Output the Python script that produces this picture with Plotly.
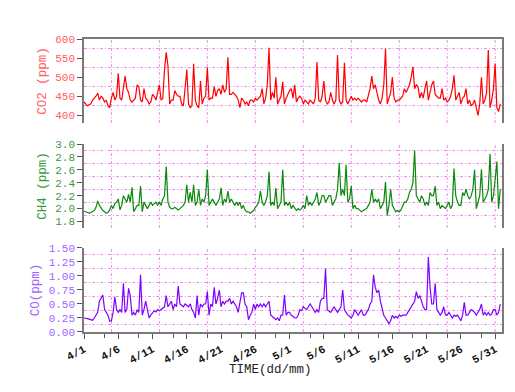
import pandas as pd
import plotly.graph_objects as go

# ---------------- data (4 samples per day, 00/06/12/18 h) ----------------
times = pd.date_range("2012-04-01", periods=244, freq="6h")

co2 = [
    435, 430, 425, 428, 430, 440, 445, 450, 458, 440, 450, 445, 435, 440, 425, 420,
    445, 460, 440, 450, 510, 445, 440, 470, 503, 470, 460, 440, 435, 440, 445, 480,
    475, 440, 435, 470, 445, 440, 430, 435, 455, 450, 440, 460, 480, 440, 445, 520,
    565, 530, 430, 440, 440, 465, 455, 450, 450, 430, 425, 470, 520, 430, 420, 425,
    535, 440, 425, 420, 490, 430, 445, 450, 525, 440, 445, 445, 475, 450, 465, 470,
    455, 480, 460, 470, 552, 455, 455, 460, 455, 450, 440, 420, 445, 440, 430, 435,
    425, 440, 440, 435, 444, 440, 445, 450, 470, 430, 445, 480, 577, 440, 460, 445,
    500, 430, 440, 450, 488, 430, 445, 455, 465, 470, 445, 480, 435, 445, 450, 445,
    430, 440, 435, 430, 440, 435, 430, 445, 540, 440, 435, 450, 490, 440, 430, 435,
    460, 440, 430, 440, 558, 440, 430, 435, 538, 440, 430, 440, 450, 440, 445, 440,
    445, 440, 435, 440, 440, 435, 450, 470, 503, 470, 480, 460, 440, 430, 445, 480,
    575, 430, 445, 460, 500, 445, 435, 440, 440, 445, 450, 470, 460, 470, 480, 500,
    527, 470, 480, 475, 445, 460, 445, 470, 490, 440, 460, 480, 490, 455, 450, 445,
    445, 470, 440, 445, 435, 440, 450, 470, 505, 440, 450, 460, 430, 445, 450, 470,
    430, 440, 425, 430, 440, 420, 400, 430, 500, 430, 440, 460, 571, 420, 440, 470,
    536, 420, 410, 430,
]

ch4 = [
    1.96, 1.95, 1.94, 1.93, 1.94, 1.95, 1.97, 2.02, 2.12, 2.05, 2.00, 1.97, 1.95, 1.93, 1.94, 1.98,
    2.05, 2.00, 2.08, 2.10, 2.15, 1.98, 2.05, 2.20, 2.15, 2.10, 2.22, 2.10, 2.33, 1.95, 2.00, 2.05,
    2.05, 2.35, 1.95, 2.10, 2.05, 2.00, 2.05, 2.10, 2.05, 2.08, 2.10, 2.05, 2.10, 2.05, 2.15, 2.20,
    2.65, 2.10, 2.02, 2.00, 2.00, 2.02, 2.00, 1.98, 2.00, 2.02, 2.05, 2.10, 2.37, 2.10, 2.25, 2.10,
    2.37, 2.05, 2.10, 2.30, 2.05, 2.15, 2.10, 2.20, 2.60, 2.05, 2.10, 2.15, 2.10, 2.05, 2.10, 2.15,
    2.32, 2.05, 2.15, 2.10, 2.27, 2.10, 2.15, 2.10, 2.05, 2.10, 2.05, 2.10, 2.00, 2.05, 1.98, 1.95,
    1.95, 1.93, 1.95, 1.97, 2.02, 2.05, 2.10, 2.27, 2.10, 2.05, 2.10, 2.20, 2.57, 2.05, 2.10, 2.05,
    2.32, 2.00, 2.05, 2.10, 2.60, 2.05, 2.10, 2.05, 2.10, 2.00, 2.05, 2.00, 1.97, 2.00, 1.98, 2.00,
    2.05, 2.00, 2.20, 2.05, 2.10, 2.05, 2.10, 2.15, 2.25, 2.05, 2.10, 2.20, 2.20, 2.10, 2.15, 2.20,
    2.20, 2.05, 2.10, 2.15, 2.30, 2.71, 2.20, 2.30, 2.20, 2.68, 2.10, 2.15, 2.35, 2.00, 2.05, 2.00,
    2.00, 1.98, 1.95, 1.97, 1.98, 2.00, 2.05, 2.10, 2.30, 2.10, 2.15, 2.10, 2.15, 2.00, 2.05, 2.10,
    2.41, 1.89, 2.05, 2.30, 2.05, 2.00, 1.95, 1.97, 1.95, 1.98, 2.05, 2.10, 2.10, 2.15, 2.25, 2.30,
    2.40, 2.90, 2.20, 2.15, 2.10, 2.20, 2.15, 2.05, 2.10, 2.05, 2.25, 2.20, 2.20, 2.35, 2.05, 2.10,
    2.00, 2.05, 2.02, 2.00, 2.05, 2.10, 2.00, 2.05, 2.62, 2.20, 2.10, 2.05, 2.05, 2.25, 2.20, 2.30,
    2.20, 2.15, 2.20, 2.30, 2.60, 2.00, 2.10, 2.20, 2.61, 2.10, 2.15, 2.20, 2.30, 2.85, 2.10, 2.20,
    2.45, 2.73, 2.00, 2.30,
]

co = [
    0.25, 0.25, 0.24, 0.23, 0.22, 0.21, 0.25, 0.30, 0.35, 0.55, 0.60, 0.66, 0.40, 0.35, 0.30, 0.19,
    0.20, 0.35, 0.63, 0.40, 0.35, 0.40, 0.35, 0.87, 0.35, 0.40, 0.78, 0.65, 0.30, 0.35, 0.30, 0.40,
    0.35, 1.02, 0.30, 0.40, 0.55, 0.40, 0.25, 0.30, 0.35, 0.38, 0.36, 0.40, 0.38, 0.40, 0.42, 0.45,
    0.65, 0.45, 0.50, 0.55, 0.40, 0.50, 0.45, 0.82, 0.50, 0.48, 0.45, 0.50, 0.48, 0.45, 0.50, 0.40,
    0.35, 0.25, 0.65, 0.30, 0.50, 0.45, 0.50, 0.50, 0.72, 0.30, 0.50, 0.45, 0.80, 0.50, 0.60, 0.75,
    0.45, 0.55, 0.50, 0.55, 0.55, 0.60, 0.50, 0.55, 0.50, 0.45, 0.35, 0.50, 0.70, 0.70, 0.50, 0.45,
    0.22, 0.30, 0.35, 0.50, 0.40, 0.50, 0.45, 0.50, 0.45, 0.50, 0.45, 0.50, 0.55, 0.30, 0.28, 0.25,
    0.22, 0.25, 0.20, 0.30, 0.30, 0.66, 0.30, 0.35, 0.35, 0.30, 0.28, 0.25, 0.25, 0.30, 0.40, 0.38,
    0.45, 0.42, 0.40, 0.45, 0.50, 0.45, 0.40, 0.35, 0.40, 0.35, 0.55, 0.60, 0.60, 1.13, 0.40, 0.38,
    0.35, 0.40, 0.45, 0.40, 0.35, 0.40, 0.45, 0.75, 0.40, 0.35, 0.30, 0.28, 0.25, 0.30, 0.40, 0.35,
    0.30, 0.35, 0.40, 0.30, 0.30, 0.35, 0.40, 0.50, 0.55, 1.02, 0.80, 0.70, 0.75, 0.55, 0.40, 0.30,
    0.25, 0.20, 0.15, 0.20, 0.30, 0.25, 0.28, 0.25, 0.30, 0.28, 0.30, 0.30, 0.30, 0.35, 0.40, 0.45,
    0.50, 0.55, 0.72, 0.60, 0.65, 0.55, 0.45, 0.40, 0.40, 1.34, 0.80, 0.50, 0.50, 0.87, 0.40, 0.35,
    0.30, 0.35, 0.45, 0.30, 0.30, 0.35, 0.30, 0.25, 0.30, 0.28, 0.30, 0.25, 0.20, 0.30, 0.53, 0.30,
    0.30, 0.35, 0.40, 0.38, 0.35, 0.30, 0.35, 0.40, 0.50, 0.30, 0.35, 0.30, 0.35, 0.30, 0.32, 0.40,
    0.40, 0.30, 0.35, 0.50,
]

vgrid_dates = ["2012-04-05", "2012-04-12", "2012-04-19", "2012-04-26", "2012-05-03",
               "2012-05-10", "2012-05-17", "2012-05-24", "2012-05-31"]
x_range = ["2012-04-01", "2012-06-01"]

# ---------------- styling ----------------
FONT = "Liberation Mono"
GRID = "#f08cf0"
GDASH = "3px,2px,1px,2px"
AXLINE = "#7a7a7a"
DAY = 86400000

fig = go.Figure()
fig.add_trace(go.Scatter(x=times, y=co2, mode="lines", line=dict(color="#ff0000", width=1.2),
                         xaxis="x", yaxis="y", showlegend=False))
fig.add_trace(go.Scatter(x=times, y=ch4, mode="lines", line=dict(color="#0a8a0a", width=1.2),
                         xaxis="x2", yaxis="y2", showlegend=False))
fig.add_trace(go.Scatter(x=times, y=co, mode="lines", line=dict(color="#8000ff", width=1.2),
                         xaxis="x3", yaxis="y3", showlegend=False))


def yax(domain, rng, tick0, dtick, gtick0, title, col, fmt):
    return dict(
        domain=domain, range=rng, tick0=tick0, dtick=dtick, automargin=False,
        tickformat=fmt, showgrid=False, zeroline=False,
        showline=True, linecolor=AXLINE, linewidth=1.5, mirror=True,
        ticks="outside", ticklen=5, tickcolor="#555555", tickwidth=1,
        tickfont=dict(family=FONT, size=11, color=col),
        title=dict(text=title, font=dict(family=FONT, size=12.5, color=col), standoff=6),
        minor=dict(tick0=gtick0, dtick=dtick, showgrid=True, gridcolor=GRID,
                   griddash=GDASH, gridwidth=1, ticks=""),
    )


# the page body adds an 8px offset, so the figure is 8px smaller with margins shifted
fig.update_layout(
    width=507, height=384,
    margin=dict(l=76, r=13, t=31, b=60, autoexpand=False),
    paper_bgcolor="white", plot_bgcolor="white",
    showlegend=False,
    xaxis=dict(anchor="y", matches="x3", side="top", showline=True, linecolor=AXLINE,
               linewidth=1.5, ticks="", showticklabels=False, showgrid=False, zeroline=False,
               automargin=False),
    xaxis2=dict(anchor="y2", matches="x3", showline=False, ticks="", showticklabels=False,
                showgrid=False, zeroline=False, automargin=False),
    xaxis3=dict(anchor="y3", range=x_range, type="date", tick0="2012-04-01", dtick=5 * DAY,
                tickformat="%-m/%-d", tickangle=-28, showgrid=False, zeroline=False,
                showline=True, linecolor=AXLINE, linewidth=1.5, automargin=False,
                ticks="outside", ticklen=5, tickcolor="#555555",
                tickfont=dict(family=FONT, size=11, color="#111111", weight="bold"),
                minor=dict(tick0="2012-04-04", dtick=5 * DAY, ticks="outside", ticklen=4,
                           tickcolor="#555555", showgrid=False)),
    yaxis=yax([0.7133, 1.0], [380, 600], 400, 50, 425, "CO2 (ppm)", "#ff6060", "d"),
    yaxis2=yax([0.355, 0.6416], [1.7, 3.0], 1.8, 0.2, 1.9, "CH4 (ppm)", "#3a9a3a", ".1f"),
    yaxis3=yax([0.0, 0.2867], [0.0, 1.5], 0.0, 0.25, 0.125, "CO(ppm)", "#a064ff", ".2f"),
)

shapes = []
for xref, yref in [("x", "y domain"), ("x2", "y2 domain"), ("x3", "y3 domain")]:
    for d in vgrid_dates:
        shapes.append(dict(type="line", xref=xref, yref=yref, x0=d, x1=d, y0=0, y1=1,
                           line=dict(color=GRID, width=1, dash=GDASH), layer="below"))
fig.update_layout(shapes=shapes)

fig.add_annotation(text="TIME(dd/mm)", xref="paper", yref="paper", x=0.445, y=-0.13,
                   xanchor="center", yanchor="middle", showarrow=False,
                   font=dict(family=FONT, size=12.5, color="#222222"))

fig.write_html("out.html")
